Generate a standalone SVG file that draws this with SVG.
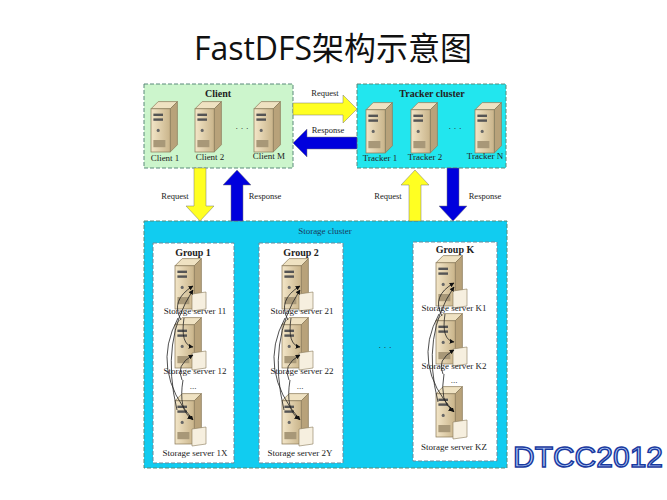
<svg xmlns="http://www.w3.org/2000/svg" width="667" height="500" viewBox="0 0 667 500">
<style>
.t{font-family:"Liberation Serif",serif;font-size:9px;fill:#222;text-anchor:middle}
.b{font-weight:bold;font-size:10px}
.box{stroke:#5a8a7a;stroke-width:1;stroke-dasharray:4,2}
.grp{fill:#fff;stroke:#6a8a9a;stroke-width:1;stroke-dasharray:4,2}
.ln{fill:none;stroke:#222;stroke-width:0.8;marker-end:url(#ah)}
</style>
<defs>
<marker id="ah" viewBox="0 0 10 10" refX="9" refY="5" markerWidth="6" markerHeight="6" orient="auto"><path d="M0,0L10,5L0,10z" fill="#111"/></marker>
<linearGradient id="sv" x1="0" x2="1"><stop offset="0" stop-color="#f3e6c8"/><stop offset="1" stop-color="#c9b48a"/></linearGradient>
<g id="srv" transform="scale(1.2)">
<path d="M-10,-16 L-4,-22 L12,-22 L6,-16z" fill="#efe2c2" stroke="#8a7a5a" stroke-width="0.6"/>
<path d="M6,-16 L12,-22 L12,14 L6,20z" fill="#b8a27a" stroke="#8a7a5a" stroke-width="0.6"/>
<rect x="-10" y="-16" width="16" height="36" fill="url(#sv)" stroke="#8a7a5a" stroke-width="0.6"/>
<rect x="-8" y="-12" width="8" height="2" fill="#555"/><rect x="-8" y="-8" width="8" height="2" fill="#555"/>
<circle cx="-4" cy="2" r="1.3" fill="#666"/>
<rect x="-8" y="10" width="10" height="6" fill="#a89878"/>
</g>
<g id="ssv"><use href="#srv"/><path d="M5,9 L19,7 L19,24 L5,26z" fill="#f6efdf" stroke="#8a7a5a" stroke-width="0.6"/></g>
</defs>
<rect width="667" height="500" fill="#fff"/>
<text x="333" y="60" style="font-family:'Open Sans','Noto Sans CJK SC',sans-serif;font-size:32px;fill:#111" text-anchor="middle">FastDFS架构示意图</text>

<g id="client">
<rect class="box" x="144" y="84" width="149" height="84" fill="#ccf5cc"/>
<text class="t b" x="218" y="97">Client</text>
<use href="#srv" x="163" y="128"/><use href="#srv" x="207" y="128"/><use href="#srv" x="266" y="128"/>
<text class="t" x="242" y="131">· · ·</text>
<text class="t" x="165" y="161">Client 1</text><text class="t" x="210" y="160">Client 2</text><text class="t" x="269" y="159">Client M</text>
</g>
<g id="tracker">
<rect class="box" x="357" y="84" width="149" height="84" fill="#22e6ee"/>
<text class="t b" x="432" y="97">Tracker cluster</text>
<use href="#srv" x="378" y="129"/><use href="#srv" x="423" y="129"/><use href="#srv" x="487" y="129"/>
<text class="t" x="455" y="131">· · ·</text>
<text class="t" x="380" y="161">Tracker 1</text><text class="t" x="425" y="160">Tracker 2</text><text class="t" x="485" y="159">Tracker N</text>
</g>
<g id="storage">
<rect class="box" x="144" y="221" width="363" height="247" fill="#11ccf0"/>
<text class="t" x="325" y="234" style="fill:#1a3a5a">Storage cluster</text>
<text class="t" x="385" y="350">· · ·</text>
<g id="g1"><rect class="grp" x="153" y="243" width="81" height="220"/>
<text class="t b" x="193" y="256">Group 1</text>
<use href="#ssv" x="187" y="285"/><use href="#ssv" x="187" y="344"/><use href="#ssv" x="187" y="420"/>
<text class="t" x="195" y="314">Storage server 11</text><text class="t" x="195" y="374">Storage server 12</text><text class="t" x="193" y="389">...</text><text class="t" x="195" y="456">Storage server 1X</text>
<path class="ln" d="M181,320 Q170,300 193,286"/><path class="ln" d="M184,318 Q180,345 193,347"/><path class="ln" d="M182,380 Q175,365 193,355"/><path class="ln" d="M183,380 Q178,410 192,419"/><path class="ln" d="M178,318 Q150,370 193,420"/><path class="ln" d="M177,410 Q160,340 193,290"/></g>
<g id="g2"><rect class="grp" x="259" y="243" width="84" height="220"/>
<text class="t b" x="301" y="256">Group 2</text>
<use href="#ssv" x="294" y="285"/><use href="#ssv" x="294" y="344"/><use href="#ssv" x="294" y="420"/>
<text class="t" x="302" y="314">Storage server 21</text><text class="t" x="302" y="374">Storage server 22</text><text class="t" x="300" y="389">...</text><text class="t" x="300" y="456">Storage server 2Y</text>
<path class="ln" d="M288,320 Q277,300 300,286"/><path class="ln" d="M291,318 Q287,345 300,347"/><path class="ln" d="M289,380 Q282,365 300,355"/><path class="ln" d="M290,380 Q285,410 299,419"/><path class="ln" d="M285,318 Q257,370 300,420"/><path class="ln" d="M284,410 Q267,340 300,290"/></g>
<g id="gk"><rect class="grp" x="413" y="242" width="84" height="219"/>
<text class="t b" x="455" y="253">Group K</text>
<use href="#ssv" x="448" y="282"/><use href="#ssv" x="448" y="340"/><use href="#ssv" x="448" y="413"/>
<text class="t" x="454" y="311">Storage server K1</text><text class="t" x="454" y="369">Storage server K2</text><text class="t" x="454" y="383">...</text><text class="t" x="454" y="450">Storage server KZ</text>
<path class="ln" d="M442,316 Q431,296 454,283"/><path class="ln" d="M445,314 Q441,340 454,342"/><path class="ln" d="M443,374 Q436,360 454,350"/><path class="ln" d="M444,374 Q439,402 453,411"/><path class="ln" d="M439,314 Q411,365 454,412"/><path class="ln" d="M438,402 Q421,335 454,287"/></g>
</g>
<g id="connectors" stroke="#777" stroke-width="0.5">
<polygon points="293,103 343,103 343,95 357,109 343,123 343,115 293,115" fill="#ffff22"/>
<polygon points="357,137 307,137 307,129 293,143 307,157 307,149 357,149" fill="#0000dd"/>
<polygon points="194,168 206,168 206,206 214,206 200,221 186,206 194,206" fill="#ffff22"/>
<polygon points="231,221 243,221 243,185 251,185 237,170 223,185 231,185" fill="#0000dd"/>
<polygon points="409,221 421,221 421,185 429,185 415,170 401,185 409,185" fill="#ffff22"/>
<polygon points="447,168 459,168 459,206 467,206 453,221 439,206 447,206" fill="#0000dd"/>
</g>
<g class="t" style="font-size:8.5px">
<text x="325" y="96">Request</text><text x="328" y="133">Response</text>
<text x="175" y="199">Request</text><text x="265" y="199">Response</text>
<text x="388" y="199">Request</text><text x="485" y="199">Response</text>
</g>
<text x="588" y="467" text-anchor="middle" style="font-family:'Liberation Sans',sans-serif;font-size:30px;fill:#bcd4ff;stroke:#1a3aa0;stroke-width:1.5">DTCC2012</text>
</svg>
